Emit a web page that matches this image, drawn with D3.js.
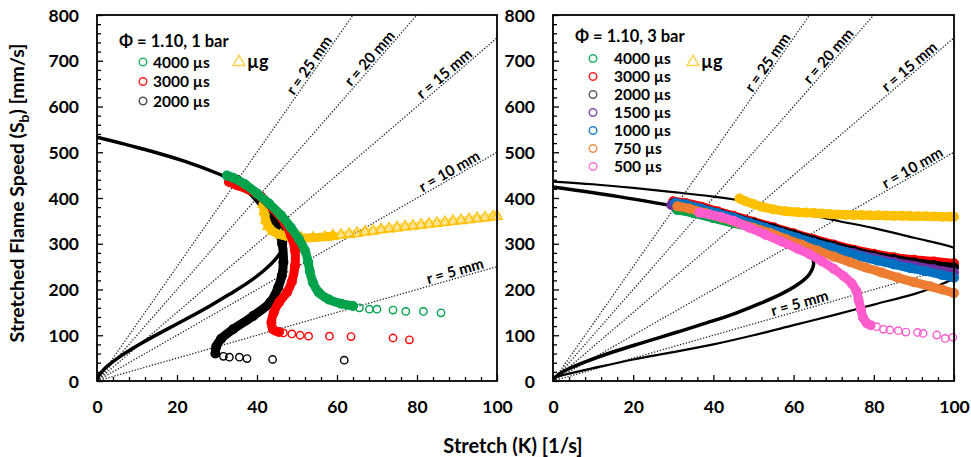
<!DOCTYPE html>
<html><head><meta charset="utf-8">
<script src="https://cdn.jsdelivr.net/npm/d3@7"></script>
<style>
body{margin:0;background:#fff}
text{font-family:Lato,'Open Sans',sans-serif;font-weight:bold;fill:#000}
</style>
</head><body>
<svg id="c" width="971" height="457"></svg>
<script>
// ---------- tick labels / categories ----------
const xTicks = [0, 20, 40, 60, 80, 100];
const yTicks = [0, 100, 200, 300, 400, 500, 600, 700, 800];
const radii = [5, 10, 15, 20, 25];           // guide lines r [mm], Sb = r*K/2

// ---------- LEFT panel: phi = 1.10, 1 bar ----------
const L_theory = [[0,533],[12,506],[22,480],[30.3,453],[36.9,426],[41.8,400],[45.1,373],[47,346],[47.5,323],[46.7,293],[44.8,268],[41.8,242],[37.9,216],[33.2,190],[28,163],[22.4,136],[16.6,109],[11,82],[6,55],[2,28],[0.4,11],[0,2]];
const L4000_dense = [[32.5,449],[34,444],[37,430],[40,410],[43,388],[46,362],[48.5,335],[50.5,310],[52,285],[52.8,260],[53.2,240],[54,215],[55.5,193],[58,178],[61,169],[64,164]];
const L4000_open = [[65.6,160],[68.1,157],[70,157],[74,155],[77.2,152],[81.6,152],[86,149]];
const L3000_dense = [[33,435],[35,428],[38,418],[41,403],[44,377],[47,345],[48.5,318],[49.5,285],[49.5,252],[48.7,217],[47.5,194],[45.5,172],[44.2,150],[43.6,128],[44,113],[45.5,107]];
const L3000_open = [[46.6,105],[48.7,103],[50.8,100],[52.9,98],[58.1,98],[63.5,97],[74,94],[78.1,90]];
const L2000_dense = [[35,440],[38,420],[42,380],[45,340],[46.3,300],[46.6,260],[46.2,230],[45.3,205],[43.3,172],[39,142],[34,113],[31,92],[29.8,75],[29.6,60]];
const L2000_open = [[31.6,54],[33.1,52],[35.6,52],[37.5,49],[43.9,47],[61.8,45.5]];
const Lug_dense = [[41.5,386],[41.8,370],[42.2,352],[42.8,338],[44,327],[46,319],[48.5,315],[51,313],[54,313],[57,315],[59,317]];
const Lug_open = [[59,317],[61,319],[63,321],[65,323],[67,326],[69,328],[71,331],[73,333],[75,335],[77,337],[79,339],[81,341],[83,343],[85,345],[87,347],[89,349],[91,351],[93,353],[95,355],[97,357],[99,359],[100,360]];

// ---------- RIGHT panel: phi = 1.10, 3 bar ----------
const R_theoryThick = [[0,424],[16.4,403],[30.2,382],[41.5,360],[50.5,339],[57.2,318],[61.8,297],[64.3,276],[65,257],[63.9,233],[61.2,212],[57.1,191],[51.8,170],[45.5,148],[38.3,127],[30.6,106],[22.8,85],[15.1,64],[8.1,42],[2.65,21],[0.55,8],[0,2]];
const R_theoryThinUpper = [[0,436],[10,430],[20,422],[30,413],[40,403],[50,390],[60,372],[70,352],[80,334],[90,313],[100,291],[102,280]];
const R_theoryThinLower = [[0,8],[10,28],[20,47],[30,63],[40,80],[50,100],[60,122],[70,144],[80,167],[90,190],[95,205],[100,224],[102,236]];
const R4000 = [[31,374],[35,367],[40,356],[45,345],[50,335],[55,324],[60,313],[65,303],[70,294],[75,285],[80,277],[85,270],[90,264],[95,259],[100,255]];
const R3000 = [[30,393],[33,389],[37,381],[41,371],[45,361],[50,348],[55,336],[60,323],[65,310],[70,298],[75,287],[80,278],[85,270],[90,265],[95,261],[100,257]];
const R2000 = [[30,388],[34,382],[38,374],[42,365],[46,355],[50,345],[55,333],[60,320],[65,307],[70,295],[75,284],[80,274],[85,266],[90,259],[95,253],[100,248]];
const R1500 = [[29.5,385],[32,382],[36,375],[40,366],[44,357],[48,347],[52,337],[56,326],[60,315],[65,302],[70,290],[75,279],[80,269],[85,260],[90,252],[95,244],[100,237]];
const R1000 = [[30.5,390],[33,386],[37,377],[41,367],[45,357],[49,346],[53,335],[57,324],[61,313],[65,302],[69,292],[73,282],[77,272],[81,263],[85,255],[89,247],[93,240],[97,232],[100,226]];
const R750 = [[31,382],[34,377],[38,367],[42,357],[46,346],[50,335],[54,324],[58,311],[62,298],[66,285],[70,272],[74,260],[78,248],[82,237],[86,226],[90,216],[94,207],[97,200],[100,192]];
const R500_dense = [[36.5,368],[39,364],[42,358],[45,350],[49,335],[53,320],[57,305],[61,289],[64,277],[67,262],[70,245],[72.5,229],[74.5,213],[75.7,196],[76.2,177],[76.8,157],[77.3,139],[78.2,127],[79.2,122]];
const R500_open = [[80.7,118.7],[82.4,113],[84,111.5],[86.1,110],[88,107],[90.9,106],[92.3,104],[95.7,100.5],[97.8,93],[99.7,95.5]];
const Rug_dense = [[46.5,399],[48,393],[50,387],[52,381],[55,375],[58,371],[61,369],[63,368],[65,367],[67,366],[69,365],[71,364],[73,363.5],[75,363],[77,362.5],[79,362],[81,362],[83,361.5],[85,361],[87,361],[89,360.5],[91,360],[93,360],[95,359.5],[97,359],[99,359],[100,359]];

// legend texts
const L_legend = ["4000 µs", "3000 µs", "2000 µs"];
const R_legend = ["4000 µs", "3000 µs", "2000 µs", "1500 µs", "1000 µs", "750 µs", "500 µs"];

// ---------- style ----------
const C = {green:"#00a24c", red:"#ff0000", black:"#000000", purple:"#7030a0", blue:"#0070c0", orange:"#ed7d31", pink:"#ff5ccd", yellow:"#ffc000"};
const svg = d3.select('#c');

function panel(o){
  const x = d3.scaleLinear().domain([0,100]).range([o.x0,o.x1]);
  const y = d3.scaleLinear().domain([0,800]).range([o.y0,o.y1]);
  const g = svg.append('g');
  svg.append('clipPath').attr('id','clip'+o.id).append('rect')
    .attr('x',o.x0).attr('y',o.y1).attr('width',o.x1-o.x0).attr('height',o.y0-o.y1);
  const gc = g.append('g').attr('clip-path',`url(#clip${o.id})`);
  const line = d3.line().x(d=>x(d[0])).y(d=>y(d[1])).curve(d3.curveCatmullRom.alpha(0.5));

  // guide lines
  radii.forEach(r=>{
    gc.append('line').attr('x1',x(0)).attr('y1',y(0)).attr('x2',x(100)).attr('y2',y(r*100/2))
      .attr('stroke','#222').attr('stroke-width',1.3).attr('stroke-dasharray','1.3 1.7');
    const k = o.labelK[r];
    const px = x(k), py = y(r*k/2);
    const ang = Math.atan2(y(r*100/2)-y(0), x(100)-x(0))*180/Math.PI;
    g.append('text').attr('transform',`translate(${px},${py}) rotate(${ang})`)
      .attr('text-anchor','middle').attr('dy',-2).style('font-size','15px').text(`r = ${r} mm`);
  });

  // theory curves
  o.theory.forEach(t=>{
    gc.append('path').attr('d',line(t.d)).attr('fill','none').attr('stroke','#000').attr('stroke-width',t.w);
  });

  // series
  o.series.forEach(s=>{
    if(s.dense){
      g.append('path').attr('d',line(s.dense)).attr('fill','none').attr('stroke',s.c)
        .attr('stroke-width',9).attr('stroke-linecap','round').attr('stroke-linejoin','round')
        .attr('opacity', s.op||1);
      if(s.tri){
        g.append('g').selectAll('path').data(s.dense).join('path')
          .attr('transform',d=>`translate(${x(d[0])},${y(d[1])})`)
          .attr('d',d3.symbol(d3.symbolTriangle,45)()).attr('fill','none').attr('stroke',s.c).attr('stroke-width',1.3);
      } else {
        g.append('g').selectAll('circle').data(s.dense).join('circle')
          .attr('cx',d=>x(d[0])).attr('cy',d=>y(d[1])).attr('r',4.4)
          .attr('fill','none').attr('stroke',s.c).attr('stroke-width',1.3);
      }
    }
    if(s.open){
      if(s.tri){
        g.append('path').attr('d',line(s.open)).attr('fill','none').attr('stroke',s.c)
          .attr('stroke-width',8).attr('stroke-linecap','round').attr('opacity',0.45);
        g.append('g').selectAll('path').data(s.open).join('path')
          .attr('transform',d=>`translate(${x(d[0])},${y(d[1])})`)
          .attr('d',d3.symbol(d3.symbolTriangle,50)()).attr('fill','none').attr('stroke',s.c).attr('stroke-width',1.3);
      } else {
        g.append('g').selectAll('circle').data(s.open).join('circle')
          .attr('cx',d=>x(d[0])).attr('cy',d=>y(d[1])).attr('r',3.7)
          .attr('fill','none').attr('stroke',s.c).attr('stroke-width',1.4);
      }
    }
  });

  // axes (inward ticks)
  const xMinor = d3.range(0,101,4).filter(v=>v%20!==0);
  const yMinor = d3.range(0,801,20).filter(v=>v%100!==0);
  g.append('g').attr('transform',`translate(0,${o.y0})`)
    .call(d3.axisBottom(x).tickValues(xTicks).tickSize(-6).tickPadding(20).tickFormat(d3.format('d')));
  g.append('g').attr('transform',`translate(0,${o.y0})`)
    .call(d3.axisBottom(x).tickValues(xMinor).tickSize(-4).tickFormat(''));
  const ay = g.append('g').attr('transform',`translate(${o.x0},0)`)
    .call(d3.axisLeft(y).tickValues(yTicks).tickSize(-6).tickPadding(18).tickFormat(d3.format('d')));
  g.append('g').attr('transform',`translate(${o.x0},0)`)
    .call(d3.axisLeft(y).tickValues(yMinor).tickSize(-4).tickFormat(''));
  g.selectAll('.domain').remove();
  g.selectAll('.tick line').attr('stroke','#000').attr('stroke-width',1.3);
  g.selectAll('.tick text').style('font-size','17.5px').style('font-family','Lato, sans-serif').attr('font-weight','bold');
  ay.selectAll('.tick text').attr('dy','0.35em');

  g.append('rect').attr('x',o.x0).attr('y',o.y1).attr('width',o.x1-o.x0).attr('height',o.y0-o.y1)
    .attr('fill','none').attr('stroke','#000').attr('stroke-width',1.8);

  // legend
  const lg = g.append('g');
  lg.append('text').attr('x',o.leg.tx).attr('y',o.leg.ty).style('font-size','16.5px').text(o.leg.title);
  o.leg.items.forEach((t,i)=>{
    const yy = o.leg.y0 + i*o.leg.dy;
    lg.append('circle').attr('cx',o.leg.cx).attr('cy',yy).attr('r',3.8).attr('fill','none')
      .attr('stroke',o.leg.colors[i]).attr('stroke-width',1.5).attr('opacity',0.85);
    lg.append('text').attr('x',o.leg.lx).attr('y',yy).attr('dy','0.36em').style('font-size','15.5px').text(t);
  });
  lg.append('path').attr('transform',`translate(${o.leg.ugx},${o.leg.ugy})`)
    .attr('d',d3.symbol(d3.symbolTriangle,60)()).attr('fill','none').attr('stroke','#ffd24d').attr('stroke-width',1.5);
  lg.append('text').attr('x',o.leg.ugx+8).attr('y',o.leg.ugy).attr('dy','0.36em').style('font-size','18px').text('µg');
}

panel({
  id:'L', x0:97, x1:497, y0:381, y1:15,
  labelK:{5:90, 10:89, 15:88, 20:69.5, 25:54.5},
  theory:[{d:L_theory, w:3.5}],
  series:[
    {dense:L2000_dense, open:L2000_open, c:C.black},
    {dense:Lug_dense, open:Lug_open, c:C.yellow, tri:true},
    {dense:L3000_dense, open:L3000_open, c:C.red},
    {dense:L4000_dense, open:L4000_open, c:C.green}
  ],
  leg:{title:'Φ = 1.10, 1 bar', tx:119, ty:47, cx:143, lx:153, y0:62, dy:19.5,
       items:L_legend, colors:[C.green, C.red, '#333'], ugx:239, ugy:62}
});
panel({
  id:'R', x0:553, x1:954, y0:381, y1:15,
  labelK:{5:62, 10:90.5, 15:90, 20:70, 25:55},
  theory:[{d:R_theoryThick, w:3.5},{d:R_theoryThinUpper, w:2.2},{d:R_theoryThinLower, w:2.2}],
  series:[
    {dense:Rug_dense, c:C.yellow},
    {dense:R4000, c:C.green},
    {dense:R3000, c:C.red},
    {dense:R2000, c:C.black},
    {dense:R1500, c:C.purple},
    {dense:R1000, c:C.blue},
    {dense:R750, c:C.orange},
    {dense:R500_dense, open:R500_open, c:C.pink}
  ],
  leg:{title:'Φ = 1.10, 3 bar', tx:575, ty:42, cx:593, lx:614, y0:58.5, dy:18,
       items:R_legend, colors:[C.green, C.red, '#444', C.purple, C.blue, C.orange, C.pink], ugx:693, ugy:62}
});

// axis titles
svg.append('text').attr('transform','translate(24,193) rotate(-90)').attr('text-anchor','middle')
  .style('font-size','19.5px')
  .call(t=>{ t.append('tspan').text('Stretched Flame Speed (S');
             t.append('tspan').attr('dy',5).style('font-size','14px').text('b');
             t.append('tspan').attr('dy',-5).text(') [mm/s]'); });
svg.append('text').attr('x',513).attr('y',453).attr('text-anchor','middle').style('font-size','20px').text('Stretch (K) [1/s]');
</script>
</body></html>
